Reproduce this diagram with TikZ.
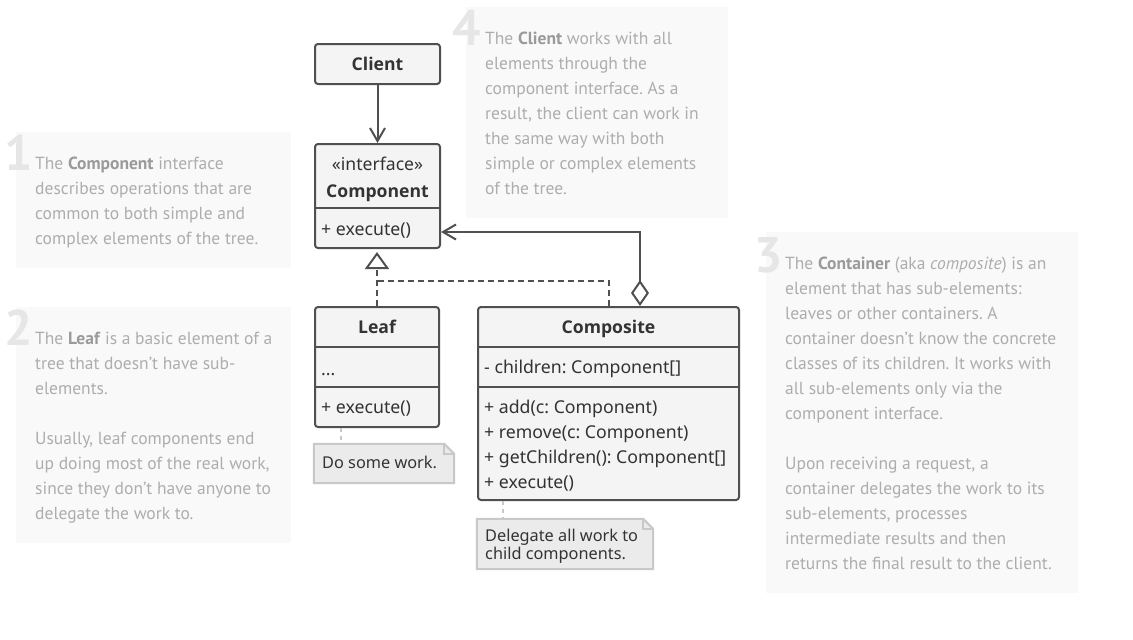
\documentclass[tikz,border=0pt]{standalone}
\usepackage{fontspec}
\setmainfont{PT Sans}
\newfontfamily\diagfont{Noto Sans}
\newfontfamily\diagbold{Open Sans}
\usetikzlibrary{arrows.meta,calc}
\definecolor{strokec}{HTML}{505050}
\definecolor{boxfill}{HTML}{F4F4F4}
\definecolor{txtc}{HTML}{333333}
\definecolor{notefill}{HTML}{EBEBEB}
\definecolor{notestroke}{HTML}{C8C8C8}
\definecolor{panelc}{HTML}{F9F9F9}
\definecolor{anntext}{HTML}{ADADAD}
\definecolor{annbold}{HTML}{9A9A9A}
\definecolor{bignumc}{HTML}{E6E6E6}
\newcommand\annhl[1]{\textcolor{annbold}{\textbf{#1}}}
\frenchspacing
\begin{document}
\begin{tikzpicture}[x=1pt,y=-1pt,
  classbox/.style={draw=strokec, fill=boxfill, line width=2pt, rounded corners=3pt, inner sep=0pt},
  divider/.style={draw=strokec, line width=2pt},
  ctitle/.style={font=\diagbold\fontsize{17.6}{22}\selectfont\bfseries, text=txtc, anchor=base, inner sep=0pt},
  csub/.style={font=\diagfont\fontsize{17.6}{22}\selectfont, text=txtc, anchor=base, inner sep=0pt},
  member/.style={font=\diagfont\fontsize{17.7}{22}\selectfont, text=txtc, anchor=base west, inner sep=0pt},
  link/.style={draw=strokec, line width=2pt},
  notebox/.style={inner sep=0pt, draw=none},
  noteshape/.style={fill=notefill, draw=notestroke, line width=2pt},
  notetext/.style={font=\diagfont\fontsize{16.3}{18}\selectfont, text=txtc, anchor=base west, inner sep=0pt},
  notelink/.style={draw=notestroke, line width=1.5pt, dash pattern=on 4pt off 4pt},
  panel/.style={fill=panelc},
  annline/.style={font=\fontsize{17.5}{25}\selectfont, text=anntext, anchor=base west, inner sep=0pt},
  bignum/.style={font=\fontsize{50}{50}\selectfont\bfseries, text=bignumc, anchor=base west, inner sep=0pt},
]
\useasboundingbox (0,0) rectangle (1133,640);

% ---------- annotation panels ----------
\fill[panel] (16,132) rectangle (291,268);
\fill[panel] (16,307) rectangle (291,543);
\fill[panel] (466,7) rectangle (728,218);
\fill[panel] (766,232) rectangle (1078,593);

\node[bignum] (n1) at (4,170) {1};
\node[bignum] (n2) at (4,345) {2};
\node[bignum] (n4) at (452,45) {4};
\node[bignum] (n3) at (754,272) {3};

% panel 1
\node[annline] (a1l1) at (35,169) {The \annhl{Component} interface};
\node[annline] (a1l2) at (35,194) {describes operations that are};
\node[annline] (a1l3) at (35,219) {common to both simple and};
\node[annline] (a1l4) at (35,244) {complex elements of the tree.};

% panel 2
\node[annline] (a2l1) at (35,344) {The \annhl{Leaf} is a basic element of a};
\node[annline] (a2l2) at (35,369) {tree that doesn’t have sub-};
\node[annline] (a2l3) at (35,394) {elements.};
\node[annline] (a2l4) at (35,444) {Usually, leaf components end};
\node[annline] (a2l5) at (35,469) {up doing most of the real work,};
\node[annline] (a2l6) at (35,494) {since they don’t have anyone to};
\node[annline] (a2l7) at (35,519) {delegate the work to.};

% panel 4
\node[annline] (a4l1) at (485,44) {The \annhl{Client} works with all};
\node[annline] (a4l2) at (485,69) {elements through the};
\node[annline] (a4l3) at (485,94) {component interface. As a};
\node[annline] (a4l4) at (485,119) {result, the client can work in};
\node[annline] (a4l5) at (485,144) {the same way with both};
\node[annline] (a4l6) at (485,169) {simple or complex elements};
\node[annline] (a4l7) at (485,194) {of the tree.};

% panel 3
\node[annline] (a3l1) at (785,269) {The \annhl{Container} (aka \textit{composite}) is an};
\node[annline] (a3l2) at (785,294) {element that has sub-elements:};
\node[annline] (a3l3) at (785,319) {leaves or other containers. A};
\node[annline] (a3l4) at (785,344) {container doesn’t know the concrete};
\node[annline] (a3l5) at (785,369) {classes of its children. It works with};
\node[annline] (a3l6) at (785,394) {all sub-elements only via the};
\node[annline] (a3l7) at (785,419) {component interface.};
\node[annline] (a3l8) at (785,469) {Upon receiving a request, a};
\node[annline] (a3l9) at (785,494) {container delegates the work to its};
\node[annline] (a3l10) at (785,519) {sub-elements, processes};
\node[annline] (a3l11) at (785,544) {intermediate results and then};
\node[annline] (a3l12) at (785,569) {returns the final result to the client.};

% ---------- classes ----------
\node[classbox, minimum width=125, minimum height=40] (client) at (377.5,64) {};
\node[ctitle] (clientT) at (377.5,70) {Client};

\node[classbox, minimum width=125, minimum height=104] (component) at (377.5,196) {};
\node[csub] (componentS) at (377.5,170) {«interface»};
\node[ctitle] (componentT) at (377.5,197) {Component};
\draw[divider] (component.west |- 0,208) -- (component.east |- 0,208);
\node[member] (componentM1) at (321,235) {+ execute()};

\node[classbox, minimum width=124, minimum height=120] (leaf) at (377,367) {};
\node[ctitle] (leafT) at (377,333) {Leaf};
\draw[divider] (leaf.west |- 0,347) -- (leaf.east |- 0,347);
\draw[divider] (leaf.west |- 0,387) -- (leaf.east |- 0,387);
\node[member] (leafF) at (321,375) {...};
\node[member] (leafM1) at (321,413) {+ execute()};

\node[classbox, minimum width=261, minimum height=193] (composite) at (608.5,403.5) {};
\node[ctitle] (compositeT) at (608.5,333) {Composite};
\draw[divider] (composite.west |- 0,347) -- (composite.east |- 0,347);
\draw[divider] (composite.west |- 0,387) -- (composite.east |- 0,387);
\node[member] (compositeF) at (484,373) {- children: Component[]};
\node[member] (compositeM1) at (484,413) {+ add(c: Component)};
\node[member] (compositeM2) at (484,438) {+ remove(c: Component)};
\node[member] (compositeM3) at (484,463) {+ getChildren(): Component[]};
\node[member] (compositeM4) at (484,488) {+ execute()};

% ---------- relations ----------
\draw[link, -{Straight Barb[length=13pt,width=15pt]}] (client) -- (component);
\draw[link, dash pattern=on 6pt off 4pt, -{Triangle[open, length=17pt, width=24pt, line width=2pt]}, shorten >=3pt] (leaf.north) -- (leaf.north |- component.south);
\draw[link, dash pattern=on 6pt off 4pt] (composite.north) |- ([yshift=25pt]leaf.north);
\draw[link, {Diamond[open, length=26pt, width=18pt, line width=2pt]}-{Straight Barb[length=13pt,width=15pt]}] ([xshift=31.5pt]composite.north) |- ([yshift=-36pt]component.east);

% ---------- notes ----------
\node[notebox, minimum width=140, minimum height=39] (noteA) at (384,463.5) {};
\filldraw[noteshape] (noteA.north west) -- ([xshift=-10pt]noteA.north east) -- ([yshift=-10pt]noteA.north east) -- (noteA.south east) -- (noteA.south west) -- cycle;
\draw[noteshape, fill=none] ([xshift=-10pt]noteA.north east) |- ([yshift=-10pt]noteA.north east);
\node[notetext] (noteAT) at (322,468) {Do some work.};
\draw[notelink] ([xshift=-36pt]leaf.south) -- ([xshift=-43pt]noteA.north);

\node[notebox, minimum width=176, minimum height=50] (noteB) at (565,544) {};
\filldraw[noteshape] (noteB.north west) -- ([xshift=-10pt]noteB.north east) -- ([yshift=-10pt]noteB.north east) -- (noteB.south east) -- (noteB.south west) -- cycle;
\draw[noteshape, fill=none] ([xshift=-10pt]noteB.north east) |- ([yshift=-10pt]noteB.north east);
\node[notetext] (noteBT1) at (485,541) {Delegate all work to};
\node[notetext] (noteBT2) at (485,559) {child components.};
\draw[notelink] ([xshift=-105.5pt]composite.south) -- ([xshift=-62pt]noteB.north);
\end{tikzpicture}
\end{document}
